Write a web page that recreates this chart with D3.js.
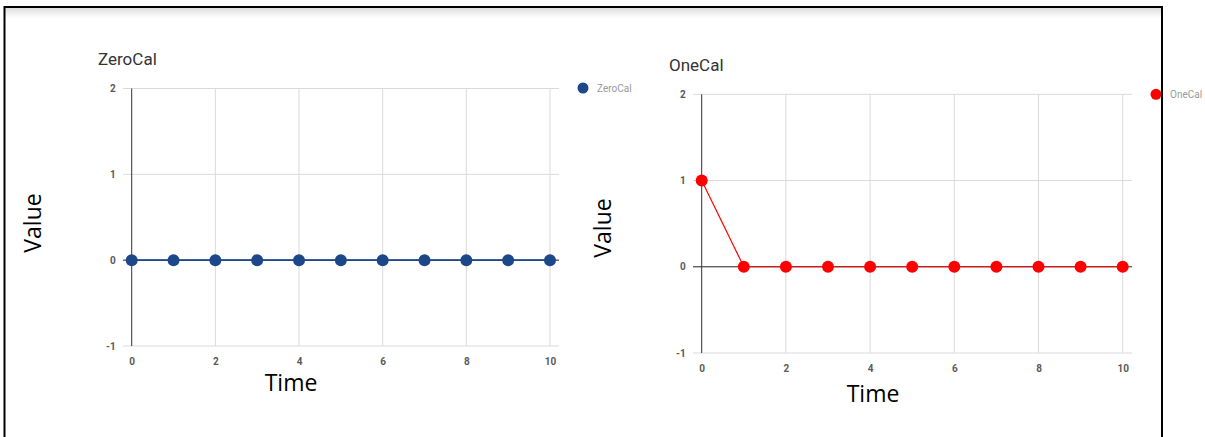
<!DOCTYPE html>
<html>
<head>
<meta charset="utf-8">
<script src="https://cdn.jsdelivr.net/npm/d3@7"></script>
<style>
  html, body { margin: 0; padding: 0; background: #fff; }
  svg { display: block; }
</style>
</head>
<body>
<svg id="chart" width="1205" height="437"></svg>
<script>
// Time steps and the two calibration series
const timeSteps = [0, 1, 2, 3, 4, 5, 6, 7, 8, 9, 10];
const zeroCal = [0, 0, 0, 0, 0, 0, 0, 0, 0, 0, 0];
const oneCal  = [1, 0, 0, 0, 0, 0, 0, 0, 0, 0, 0];
const xTicks = [0, 2, 4, 6, 8, 10];
const yTicks = [-1, 0, 1, 2];
const seriesNames = ["ZeroCal", "OneCal"];
const seriesColors = ["#1c4789", "#ff0000"];

const svg = d3.select("#chart");

// soft shadow at the top edge of the frame
const defs = svg.append("defs");
const grad = defs.append("linearGradient").attr("id", "topShade")
  .attr("x1", 0).attr("y1", 0).attr("x2", 0).attr("y2", 1);
grad.append("stop").attr("offset", "0%").attr("stop-color", "#dedede");
grad.append("stop").attr("offset", "100%").attr("stop-color", "#ffffff");
svg.append("rect").attr("x", 5).attr("y", 8).attr("width", 1156).attr("height", 10)
  .attr("fill", "url(#topShade)");

const panels = [
  { name: seriesNames[0], values: zeroCal, color: seriesColors[0], lineWidth: 1.6,
    x0: 131.7, x1: 550, yTop: 88.5, yBot: 346, gridL: 123, gridR: 559,
    titleX: 98, titleY: 65, legX: 583, legY: 88,
    timeX: 291, timeY: 391, valueX: 33, valueY: 223 },
  { name: seriesNames[1], values: oneCal, color: seriesColors[1], lineWidth: 1.2,
    x0: 701.7, x1: 1122.7, yTop: 94.3, yBot: 353, gridL: 693, gridR: 1132,
    titleX: 669, titleY: 71, legX: 1156, legY: 94.3,
    timeX: 873, timeY: 402, valueX: 603, valueY: 228 }
];

const tickText = d => String(d);

panels.forEach(p => {
  const x = d3.scaleLinear().domain([0, 10]).range([p.x0, p.x1]);
  const y = d3.scaleLinear().domain([-1, 2]).range([p.yBot, p.yTop]);
  const g = svg.append("g");

  // horizontal gridlines with outward ticks
  g.selectAll("line.hgrid").data(yTicks).join("line")
    .attr("x1", p.gridL).attr("x2", p.gridR)
    .attr("y1", d => y(d)).attr("y2", d => y(d))
    .attr("stroke", "#dadada").attr("stroke-width", 1);

  // vertical gridlines
  g.selectAll("line.vgrid").data(xTicks.filter(d => d !== 0)).join("line")
    .attr("x1", d => x(d)).attr("x2", d => x(d))
    .attr("y1", p.yTop).attr("y2", p.yBot)
    .attr("stroke", "#dadada").attr("stroke-width", 1);

  // y tick labels
  const yAxis = d3.axisLeft(y).tickValues(yTicks).tickSize(0).tickFormat(tickText);
  const ya = g.append("g").attr("transform", `translate(${p.x0 - 13},0)`).call(yAxis);
  ya.select(".domain").remove();
  ya.selectAll("text")
    .attr("font-family", "Roboto, 'Noto Sans', sans-serif")
    .attr("font-size", 10).attr("font-weight", "bold").attr("fill", "#5a5a5a");

  // x tick labels
  const xAxis = d3.axisBottom(x).tickValues(xTicks).tickSize(0).tickFormat(tickText);
  const xa = g.append("g").attr("transform", `translate(0,${p.yBot + 9})`).call(xAxis);
  xa.select(".domain").remove();
  xa.selectAll("text")
    .attr("font-family", "Roboto, 'Noto Sans', sans-serif")
    .attr("font-size", 10).attr("font-weight", "bold").attr("fill", "#5a5a5a");

  // baseline at zero and vertical axis
  g.append("line").attr("x1", p.gridL).attr("x2", p.gridR)
    .attr("y1", y(0)).attr("y2", y(0)).attr("stroke", "#333").attr("stroke-width", 1);
  g.append("line").attr("x1", x(0)).attr("x2", x(0))
    .attr("y1", p.yTop).attr("y2", p.yBot).attr("stroke", "#333").attr("stroke-width", 1);

  // series line and markers
  const line = d3.line().x((d, i) => x(timeSteps[i])).y(d => y(d));
  g.append("path").datum(p.values).attr("d", line)
    .attr("fill", "none").attr("stroke", p.color).attr("stroke-width", p.lineWidth);
  g.selectAll("circle.pt").data(p.values).join("circle")
    .attr("cx", (d, i) => x(timeSteps[i])).attr("cy", d => y(d)).attr("r", 6)
    .attr("fill", p.color);

  // title
  g.append("text").attr("x", p.titleX).attr("y", p.titleY)
    .attr("font-family", "Roboto, 'Noto Sans', sans-serif").attr("font-size", 17)
    .attr("fill", "#333").text(p.name);

  // legend
  g.append("circle").attr("cx", p.legX).attr("cy", p.legY).attr("r", 5.5).attr("fill", p.color);
  g.append("text").attr("x", p.legX + 14).attr("y", p.legY + 3.5)
    .attr("font-family", "Roboto, 'Noto Sans', sans-serif").attr("font-size", 10)
    .attr("fill", "#999").text(p.name);

  // axis titles
  g.append("text").attr("x", p.timeX).attr("y", p.timeY).attr("text-anchor", "middle")
    .attr("font-family", "'Open Sans', sans-serif").attr("font-size", 23)
    .attr("fill", "#000").text("Time");
  g.append("text").attr("transform", `translate(${p.valueX + 8},${p.valueY}) rotate(-90)`)
    .attr("text-anchor", "middle")
    .attr("font-family", "'Open Sans', sans-serif").attr("font-size", 23)
    .attr("fill", "#000").text("Value");
});

// outer frame
svg.append("rect").attr("x", 4.5).attr("y", 7).attr("width", 1157.5).attr("height", 500)
  .attr("fill", "none").attr("stroke", "#000").attr("stroke-width", 2);
</script>
</body>
</html>
